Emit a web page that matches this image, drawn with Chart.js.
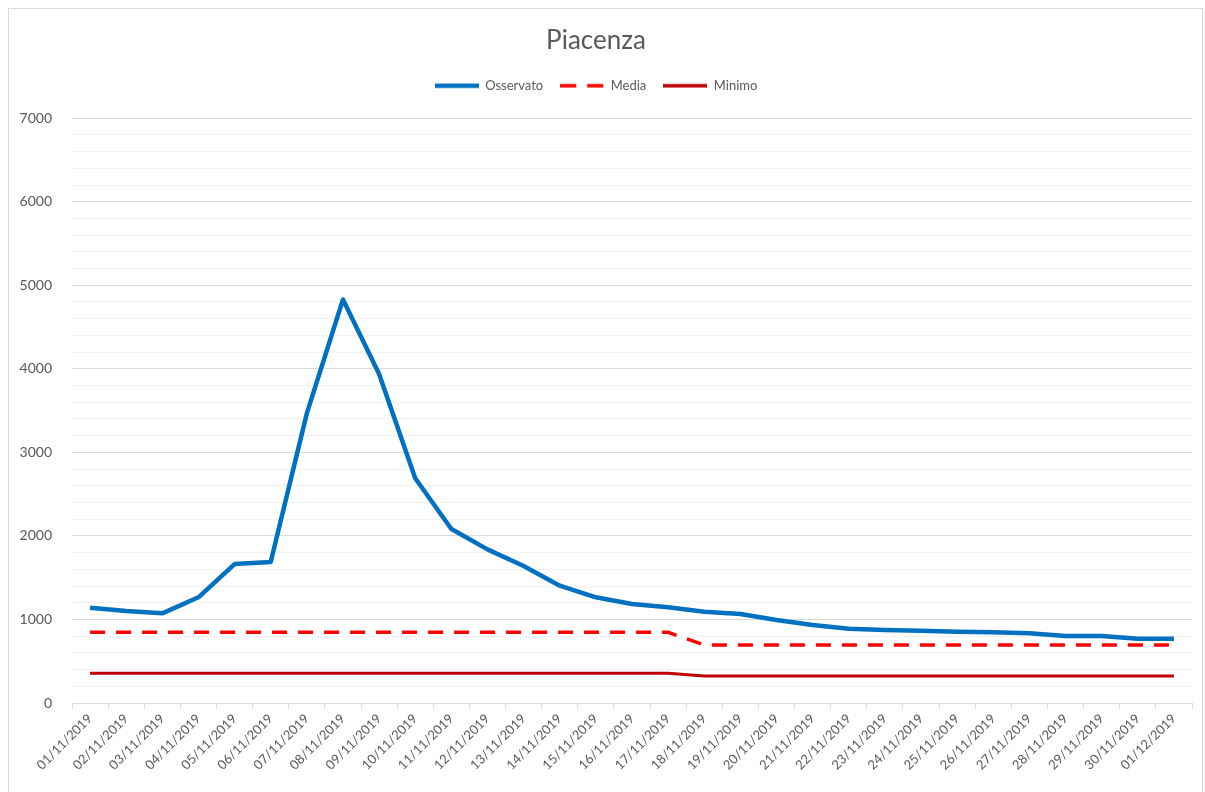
<!DOCTYPE html>
<html>
<head>
<meta charset="utf-8">
<script src="https://cdn.jsdelivr.net/npm/chart.js@4.4.1/dist/chart.umd.min.js"></script>
<style>
  html, body { margin: 0; padding: 0; background: #ffffff; }
  #wrap { position: relative; width: 1205px; height: 792px; }
</style>
</head>
<body>
<div id="wrap"><canvas id="c" width="1205" height="792"></canvas></div>
<script>
const categories = [
  '01/11/2019','02/11/2019','03/11/2019','04/11/2019','05/11/2019','06/11/2019',
  '07/11/2019','08/11/2019','09/11/2019','10/11/2019','11/11/2019','12/11/2019',
  '13/11/2019','14/11/2019','15/11/2019','16/11/2019','17/11/2019','18/11/2019',
  '19/11/2019','20/11/2019','21/11/2019','22/11/2019','23/11/2019','24/11/2019',
  '25/11/2019','26/11/2019','27/11/2019','28/11/2019','29/11/2019','30/11/2019',
  '01/12/2019'
];
const osservato = [
  1140, 1100, 1073, 1265, 1663, 1687, 3467, 4830, 3937, 2690, 2082, 1839,
  1639, 1404, 1265, 1185, 1145, 1093, 1065, 993, 933, 889, 873, 865,
  853, 846, 834, 802, 802, 770, 770
];
const media = [
  846, 846, 846, 846, 846, 846, 846, 846, 846, 846, 846, 846,
  846, 846, 846, 846, 846, 694, 694, 694, 694, 694, 694, 694,
  694, 694, 694, 694, 694, 694, 694
];
const minimo = [
  357, 357, 357, 357, 357, 357, 357, 357, 357, 357, 357, 357,
  357, 357, 357, 357, 357, 323, 323, 323, 323, 323, 323, 323,
  323, 323, 323, 323, 323, 323, 323
];
const yTickLabels = ['0', '1000', '2000', '3000', '4000', '5000', '6000', '7000'];

const FONT = "Lato, 'Open Sans', 'Liberation Sans', sans-serif";
const GREY = '#595959';

function legendLine(color, width, dash) {
  const cv = document.createElement('canvas');
  cv.width = 44; cv.height = 8;
  const c = cv.getContext('2d');
  c.strokeStyle = color;
  c.lineWidth = width;
  c.setLineDash(dash);
  c.beginPath();
  c.moveTo(0, 4);
  c.lineTo(44, 4);
  c.stroke();
  return cv;
}

const frame = {
  id: 'frame',
  beforeDraw(chart) {
    const ctx = chart.ctx;
    ctx.save();
    ctx.fillStyle = '#ffffff';
    ctx.fillRect(0, 0, chart.width, chart.height);
    ctx.strokeStyle = '#d9d9d9';
    ctx.lineWidth = 1;
    ctx.strokeRect(8.5, 8.5, chart.width - 11, chart.height + 20);
    ctx.restore();
  }
};

const legendMargin = {
  id: 'legendMargin',
  beforeInit(chart) {
    const origFit = chart.legend.fit;
    chart.legend.fit = function () {
      origFit.bind(chart.legend)();
      this.height += 16;
    };
  }
};

new Chart(document.getElementById('c'), {
  type: 'line',
  data: {
    labels: categories,
    datasets: [
      {
        label: 'Osservato',
        data: osservato,
        borderColor: '#0070C0',
        backgroundColor: '#0070C0',
        borderWidth: 4.5,
        pointRadius: 0,
        tension: 0,
        borderJoinStyle: 'round',
        pointStyle: legendLine('#0070C0', 4.5, [])
      },
      {
        label: 'Media',
        data: media,
        borderColor: '#FF0000',
        backgroundColor: '#FF0000',
        borderWidth: 3.5,
        borderDash: [15, 11],
        pointRadius: 0,
        tension: 0,
        pointStyle: legendLine('#FF0000', 3.5, [16, 11])
      },
      {
        label: 'Minimo',
        data: minimo,
        borderColor: '#C00000',
        backgroundColor: '#C00000',
        borderWidth: 3,
        pointRadius: 0,
        tension: 0,
        pointStyle: legendLine('#C00000', 3.5, [])
      }
    ]
  },
  options: {
    responsive: false,
    animation: false,
    layout: { padding: { left: 0, right: 13, top: 0, bottom: 0 } },
    plugins: {
      title: {
        display: true,
        text: 'Piacenza',
        color: GREY,
        font: { family: FONT, size: 26, weight: 'normal' },
        padding: { top: 25, bottom: 6 }
      },
      legend: {
        display: true,
        position: 'top',
        labels: {
          color: GREY,
          font: { family: FONT, size: 13 },
          usePointStyle: true,
          pointStyleWidth: 44,
          boxHeight: 13,
          padding: 17
        }
      },
      tooltip: { enabled: false }
    },
    scales: {
      x: {
        offset: true,
        grid: {
          offset: true,
          drawOnChartArea: false,
          drawTicks: true,
          tickLength: 6,
          color: '#d9d9d9'
        },
        border: { display: true, color: '#d9d9d9', width: 1 },
        ticks: {
          color: GREY,
          font: { family: FONT, size: 13 },
          minRotation: 45,
          maxRotation: 45,
          autoSkip: false,
          padding: 2
        },
        afterFit(scale) { scale.height = 89; }
      },
      y: {
        min: 0,
        max: 7000,
        ticks: {
          stepSize: 200,
          autoSkip: false,
          color: GREY,
          font: { family: FONT, size: 14 },
          padding: 20,
          callback(value) {
            const s = String(value);
            return yTickLabels.includes(s) ? s : '';
          }
        },
        grid: {
          drawTicks: false,
          color(ctx) {
            const v = ctx.tick ? ctx.tick.value : 0;
            return v % 1000 === 0 ? '#d9d9d9' : '#f2f2f2';
          },
          lineWidth: 1
        },
        border: { display: false },
        afterFit(scale) { scale.width = 72; }
      }
    }
  },
  plugins: [frame, legendMargin]
});
</script>
</body>
</html>
